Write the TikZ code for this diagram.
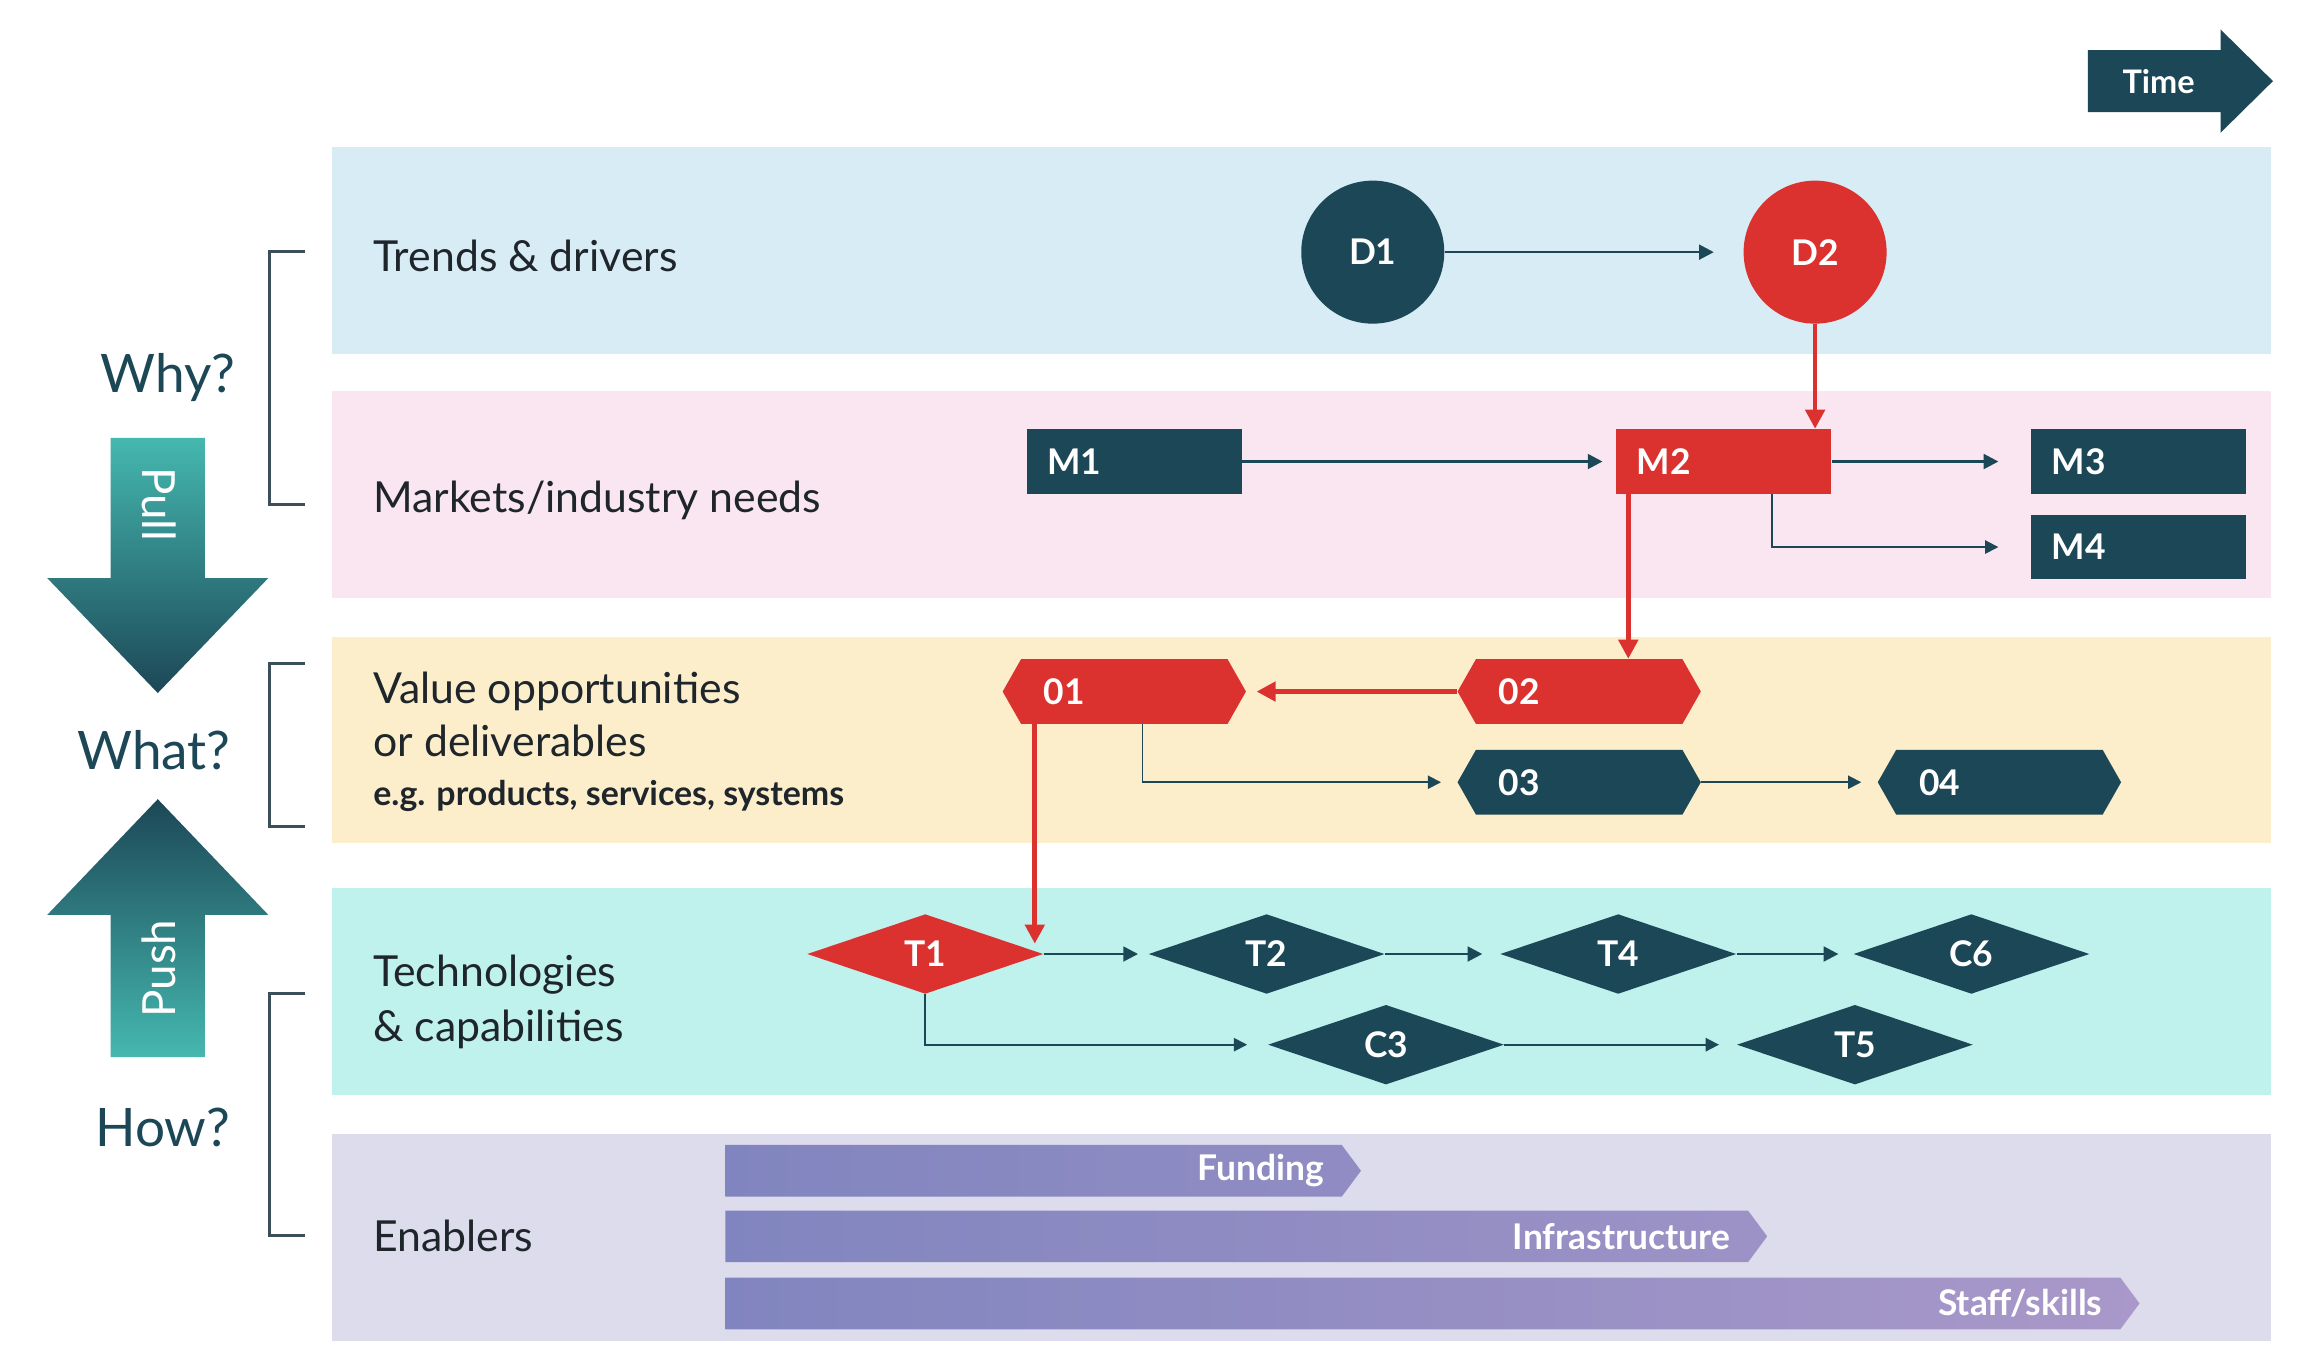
\documentclass[tikz,border=0pt]{standalone}
\usepackage{fontspec}
\setmainfont{Lato}
\usetikzlibrary{shapes.geometric,arrows.meta,calc}
\definecolor{dteal}{HTML}{1C4756}
\definecolor{lteal}{HTML}{45B8AF}
\definecolor{rred}{HTML}{DC322F}
\definecolor{bandblue}{HTML}{D8ECF6}
\definecolor{bandpink}{HTML}{FAE6F0}
\definecolor{bandyellow}{HTML}{FCEECB}
\definecolor{bandcyan}{HTML}{BFF1ED}
\definecolor{bandlav}{HTML}{DCDCEC}
\definecolor{barA}{HTML}{8185BF}
\definecolor{barB}{HTML}{A998C9}
\definecolor{labeltxt}{HTML}{1F262B}
\definecolor{brkcol}{HTML}{3A4F59}
% hexagon: name, x, y, colour, text
\newcommand\rmHex[5]{%
  \fill[#4] (#2-82.5,#3) -- (#2-70,#3-22) -- (#2+70,#3-22) -- (#2+82.5,#3)
    -- (#2+70,#3+22) -- (#2-70,#3+22) -- cycle;
  \node[hexbox] (#1) at (#2,#3) {#5};}
% enabler bar: name, right x, y, right colour, text
\newcommand\rmBar[5]{%
  \shade[left color=barA, right color=#4] (492,#3-17.5) -- (#2-13,#3-17.5) -- (#2,#3)
    -- (#2-13,#3+17.5) -- (492,#3+17.5) -- cycle;
  \node[barlbl] (#1) at (#2-25,#3) {#5};}
\begin{document}
\begin{tikzpicture}[x=1pt,y=-1pt]
\tikzset{
  every node/.style={inner sep=0pt},
  bandlbl/.style={anchor=base west, text=labeltxt, font=\fontsize{29}{35}\selectfont},
  qlbl/.style={anchor=base, text=dteal, font=\fontsize{36}{42}\selectfont},
  whitelbl/.style={text=white, font=\fontsize{24}{28}\selectfont\bfseries},
  circ/.style={circle, fill=#1, minimum size=97pt, whitelbl},
  mbox/.style={rectangle, fill=#1, minimum height=44pt, text width=118pt, inner xsep=14pt, align=left, whitelbl},
  hexbox/.style={rectangle, minimum height=44pt, text width=109pt, inner xsep=28pt, align=left, whitelbl},
  diam/.style={diamond, fill=#1, minimum width=160pt, minimum height=54pt, whitelbl},
  barlbl/.style={anchor=east, text=white, font=\fontsize{24}{28}\selectfont\bfseries},
  darr/.style={draw=dteal, line width=1.8pt, -{Triangle[length=10pt,width=10pt]}},
  thinarr/.style={draw=dteal, line width=1.2pt, -{Triangle[length=9pt,width=9pt]}},
  rarr/.style={draw=rred, line width=3.2pt, -{Triangle[length=13pt,width=13pt]}},
  brk/.style={draw=brkcol, line width=2pt},
}
\fill[white] (0,0) rectangle (1568,930);
\useasboundingbox (0,0) rectangle (1568,930);

% bands
\fill[bandblue] (225,100) rectangle (1540,240);
\fill[bandpink] (225,265) rectangle (1540,405.5);
\fill[bandyellow] (225,432) rectangle (1540,572);
\fill[bandcyan] (225,602) rectangle (1540,742.5);
\fill[bandlav] (225,769) rectangle (1540,909.5);

% time arrow
\fill[dteal] (1416,34) -- (1506,34) -- (1506,20) -- (1541.5,55) -- (1506,90) -- (1506,76) -- (1416,76) -- cycle;
\node[text=white, font=\fontsize{22}{26}\selectfont\bfseries] (time) at (1464,55) {Time};

% pull / push arrows
\shade[top color=lteal, bottom color=dteal] (75,297) -- (139,297) -- (139,392) -- (182,392)
  -- (107,470) -- (32,392) -- (75,392) -- cycle;
\node[rotate=-90, text=white, font=\fontsize{31}{36}\selectfont] (pull) at (108,342) {Pull};
\shade[top color=dteal, bottom color=lteal] (107,542) -- (182,620.5) -- (139,620.5) -- (139,717)
  -- (75,717) -- (75,620.5) -- (32,620.5) -- cycle;
\node[rotate=90, text=white, font=\fontsize{31}{36}\selectfont] (push) at (108,657) {Push};

% question labels and brackets
\node[qlbl] (why) at (114,266.5) {Why?};
\node[qlbl] (what) at (104.5,522) {What?};
\node[qlbl] (how) at (110.5,777.5) {How?};
\draw[brk] (207,170.5) -- (183,170.5) -- (183,342) -- (207,342);
\draw[brk] (207,450) -- (183,450) -- (183,560.5) -- (207,560.5);
\draw[brk] (207,674) -- (183,674) -- (183,837.6) -- (207,837.6);

% band labels
\node[bandlbl] (lt) at (253,184) {Trends \& drivers};
\node[bandlbl] (lm) at (253,347.6) {Markets/industry needs};
\node[bandlbl] (lv1) at (253,477) {Value opportunities};
\node[bandlbl] (lv2) at (253,513) {or deliverables};
\node[bandlbl, font=\fontsize{23}{28}\selectfont\bfseries] (lv3) at (253,546.5) {e.g. products, services, systems};
\node[bandlbl] (lc1) at (253,669) {Technologies};
\node[bandlbl] (lc2) at (253,706) {\& capabilities};
\node[bandlbl] (le) at (253,849) {Enablers};

% drivers
\node[circ=dteal] (D1) at (931,171) {D1};
\node[circ=rred] (D2) at (1231,171) {D2};

% markets
\node[mbox=dteal] (M1) at (769.4,313) {M1};
\node[mbox=rred] (M2) at (1169,313) {M2};
\node[mbox=dteal] (M3) at (1450.5,313) {M3};
\node[mbox=dteal] (M4) at (1450.5,371) {M4};

% opportunities
\rmHex{O1}{762.5}{469}{rred}{01}
\rmHex{O2}{1071}{469}{rred}{02}
\rmHex{O3}{1071}{530.5}{dteal}{03}
\rmHex{O4}{1356}{530.5}{dteal}{04}

% technologies
\node[diam=rred] (T1) at (627.5,647) {T1};
\node[diam=dteal] (T2) at (859,647) {T2};
\node[diam=dteal] (T4) at (1097.5,647) {T4};
\node[diam=dteal] (C6) at (1337,647) {C6};
\node[diam=dteal] (C3) at (940,708.5) {C3};
\node[diam=dteal] (T5) at (1258,708.5) {T5};

% enablers
\rmBar{fund}{923}{794}{barB!40!barA}{Funding}
\rmBar{infra}{1198.5}{838.5}{barB!70!barA}{Infrastructure}
\rmBar{staff}{1451}{884}{barB}{Staff/skills}

% connectors
\draw[darr, shorten >=20pt] (D1) -- (D2);
\draw[rarr] (D2.south) -- (D2.south |- M2.north);
\draw[darr, shorten >=9pt] (M1.east) -- (M2.west);
\draw[darr, shorten >=22pt] (M2.east) -- (M3.west);
\coordinate (m2b) at ([xshift=-40.5pt]M2.south east);
\draw[thinarr, shorten >=22pt] (m2b) |- (M4.west);
\coordinate (m2o) at ([xshift=8.5pt]M2.south west);
\draw[rarr] (m2o) -- (m2o |- O2.north);
\draw[rarr, shorten >=7pt] (O2.west) -- (O1.east);
\coordinate (o1b) at ([xshift=95pt]O1.south west);
\draw[thinarr, shorten >=11pt] (o1b) |- (O3.west);
\draw[thinarr, shorten >=11pt] (O3.east) -- (O4.west);
\coordinate (o1r) at ([xshift=22pt]O1.south west);
\coordinate (t1in) at ([yshift=7pt]T1.east);
\draw[rarr] (o1r) -- (o1r |- t1in);
\draw[darr, shorten >=7pt] (T1.east) -- (T2.west);
\draw[darr, shorten >=12pt] (T2.east) -- (T4.west);
\draw[darr, shorten >=10pt] (T4.east) -- (C6.west);
\draw[thinarr, shorten >=14pt] (T1.south) |- (C3.west);
\draw[thinarr, shorten >=12pt] (C3.east) -- (T5.west);
\end{tikzpicture}
\end{document}
